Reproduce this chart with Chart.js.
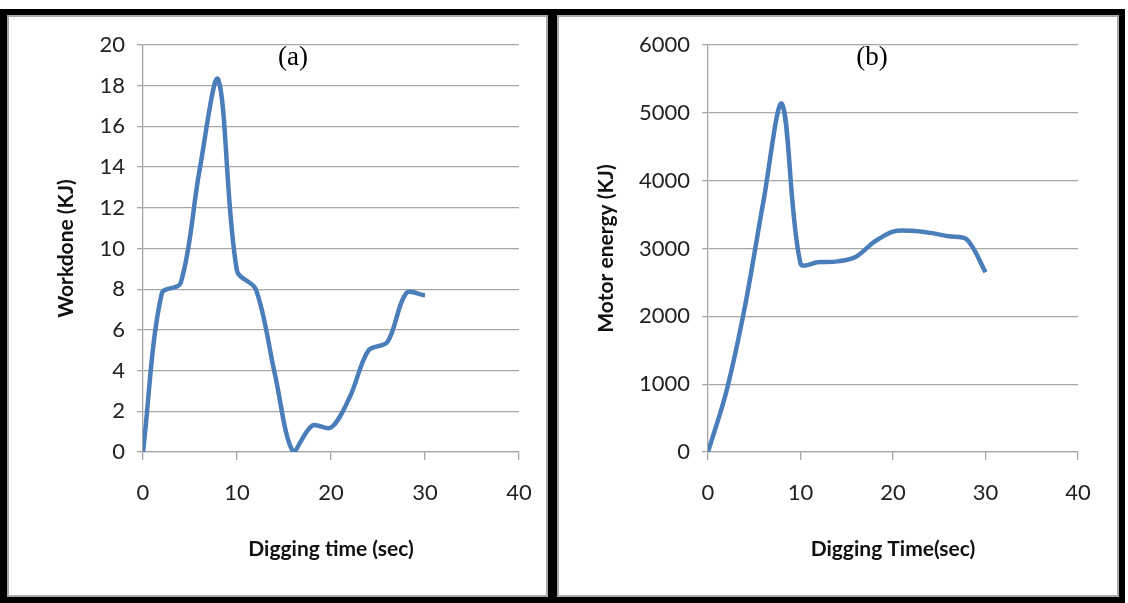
<!DOCTYPE html>
<html>
<head>
<meta charset="utf-8">
<script src="https://cdn.jsdelivr.net/npm/chart.js@4.4.1/dist/chart.umd.min.js"></script>
<style>
  body { margin: 0; background: #fff; }
  #frame { position: absolute; left: 0; top: 9px; width: 1125px; height: 594px; background: #000; }
  .box { position: absolute; top: 15px; height: 578px; background: #fff; border: 2px solid #a8a8a8; }
  #boxA { left: 7px; width: 537px; }
  #boxB { left: 557px; width: 558px; }
  canvas { position: absolute; left: 0; top: 0; }
</style>
</head>
<body>
<div id="frame"></div>
<div class="box" id="boxA"><canvas id="chartA" width="537" height="578"></canvas></div>
<div class="box" id="boxB"><canvas id="chartB" width="558" height="578"></canvas></div>
<script>
// digging time (sec), one reading every 2 s
const digTime = [0, 2, 4, 6, 8, 10, 12, 14, 16, 18, 20, 22, 24, 26, 28, 30]
// (a) workdone in KJ
const workdone = [0, 7.8, 8.3, 13.8, 18.3, 8.9, 8.0, 3.9, 0, 1.3, 1.2, 2.7, 5.0, 5.4, 7.8, 7.7]
// (b) motor energy in KJ
const motorEnergy = [0, 900, 2150, 3700, 5130, 2780, 2800, 2810, 2880, 3100, 3250, 3260, 3230, 3180, 3130, 2650]

const xTicks = [0, 10, 20, 30, 40]

const gridGray = '#a6a6a6'
const lineBlue = '#4a7ebb'
const tickFont = { family: 'Lato', size: 22 }

// axis titles and the (a)/(b) tag, placed relative to the plot area
const labelsPlugin = {
  id: 'labels',
  afterDraw(chart, args, opts) {
    const { ctx, chartArea } = chart
    const cx = (chartArea.left + chartArea.right) / 2
    const cy = (chartArea.top + chartArea.bottom) / 2
    ctx.save()
    ctx.fillStyle = '#111'
    ctx.textAlign = 'center'
    ctx.textBaseline = 'middle'
    ctx.font = 'bold 21px Lato'
    ctx.fillText(opts.xTitle, cx, chartArea.bottom + 97)
    ctx.translate(chartArea.left - opts.yTitleGap, cy)
    ctx.rotate(-Math.PI / 2)
    ctx.fillText(opts.yTitle, 0, 0)
    ctx.restore()
    ctx.save()
    ctx.fillStyle = '#000'
    ctx.textAlign = 'center'
    ctx.textBaseline = 'middle'
    ctx.font = '27px "Liberation Serif"'
    ctx.fillText(opts.tag, chartArea.left + opts.tagX, chartArea.top + 13)
    ctx.restore()
  }
}

const makeChart = (id, values, yMax, yStep, yWidth, padRight, xTitle, yTitle, yTitleGap, tag, tagX) => {
  const ctx = document.getElementById(id)
  return new Chart(ctx, {
    type: 'line',
    data: {
      datasets: [{
        data: digTime.map((t, i) => ({ x: t, y: values[i] })),
        borderColor: lineBlue,
        borderWidth: 4.5,
        pointRadius: 0,
        tension: 0.33,
        fill: false
      }]
    },
    options: {
      responsive: false,
      animation: false,
      layout: { padding: { left: 0, right: padRight, top: 28, bottom: 83 } },
      plugins: {
        legend: { display: false },
        tooltip: { enabled: false },
        labels: { xTitle: xTitle, yTitle: yTitle, yTitleGap: yTitleGap, tag: tag, tagX: tagX }
      },
      scales: {
        x: {
          type: 'linear',
          min: 0,
          max: 40,
          afterBuildTicks: s => { s.ticks = xTicks.map(v => ({ value: v })) },
          afterFit: s => { s.height = 60; s.paddingLeft = 0; s.paddingRight = 0 },
          grid: { drawOnChartArea: false, drawTicks: true, tickLength: 8, color: gridGray, lineWidth: 1.3 },
          border: { color: gridGray, width: 1.3 },
          ticks: { font: tickFont, color: '#222', padding: 20, maxRotation: 0 }
        },
        y: {
          min: 0,
          max: yMax,
          afterFit: s => { s.width = yWidth },
          grid: { color: gridGray, lineWidth: 1.3, tickLength: 6 },
          border: { color: gridGray, width: 1.3 },
          ticks: { stepSize: yStep, font: tickFont, color: '#222', padding: 12, callback: v => String(v) }
        }
      }
    },
    plugins: [labelsPlugin]
  })
}

makeChart('chartA', workdone, 20, 2, 134, 27, 'Digging time (sec)', 'Workdone (KJ)', 77, '(a)', 150)
makeChart('chartB', motorEnergy, 6000, 1000, 149, 39, 'Digging Time(sec)', 'Motor energy (KJ)', 102, '(b)', 164)
</script>
</body>
</html>
